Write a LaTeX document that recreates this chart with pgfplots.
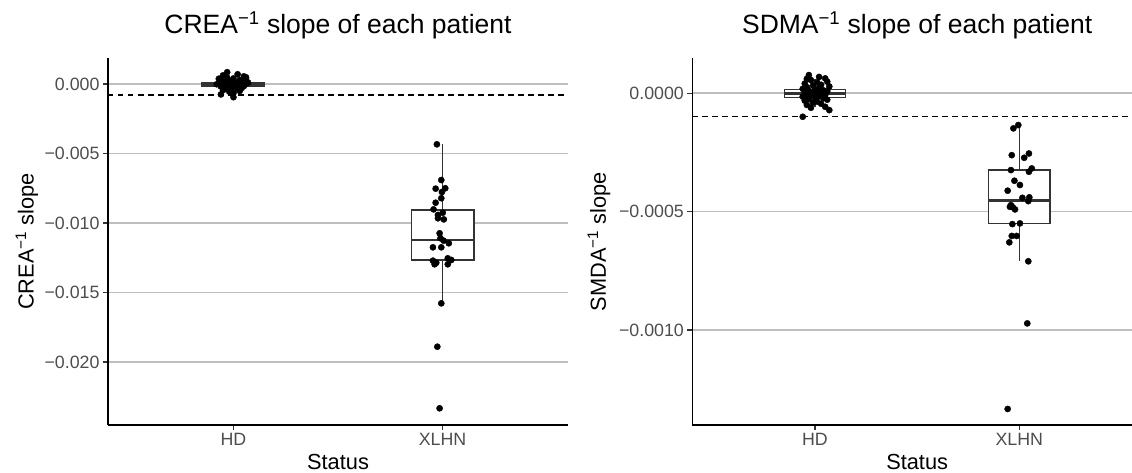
\documentclass[border=0pt]{standalone}
\usepackage{fontspec}
\setmainfont{Liberation Sans}
\usepackage{pgfplots}
\pgfplotsset{compat=1.18}
\usepgfplotslibrary{statistics}

\definecolor{tickgrey}{HTML}{4D4D4D}
\definecolor{boxgrey}{HTML}{333333}
\definecolor{gridgrey}{HTML}{BEBEBE}

\pgfplotsset{
  slopepanel/.style={
    scale only axis, height=367pt,
    axis lines=left, axis line style={-, black, line width=1.4pt},
    xmin=0.4, xmax=2.6, xtick={1,2}, xticklabels={HD,XLHN},
    tick align=outside, major tick length=5pt,
    tick style={boxgrey, line width=1.1pt},
    ymajorgrids, major grid style={gridgrey, line width=1.3pt},
    ticklabel style={font=\fontsize{17.8}{20}\selectfont, text=tickgrey},
    scaled y ticks=false,
    title style={font=\fontsize{26.5}{30}\selectfont, at={(0.5,1)}, anchor=base, yshift=18pt},
    xlabel={Status},
    xlabel style={font=\fontsize{21.8}{25}\selectfont, at={(0.5,0)}, anchor=base, yshift=-44pt},
    ylabel style={font=\fontsize{21.8}{25}\selectfont, at={(0,0.5)}, anchor=center},
    boxplot/draw direction=y,
    boxplot/every median/.style={line width=2.6pt},
  },
  boxstyle/.style={draw=boxgrey, fill=white, line width=1.2pt, solid},
  dots/.style={only marks, mark=*, mark size=3.1pt, black},
  cutoff/.style={black, line width=1.2pt, dash pattern=on 5.5pt off 4.5pt},
}

\begin{document}
\begin{tikzpicture}
\useasboundingbox (0,0) rectangle (1132pt,472pt);

% CREA panel, y values in units of 1e-3
\begin{axis}[slopepanel, at={(108pt,47pt)}, anchor=south west, width=460pt,
  ymin=-24.532, ymax=1.87,
  ytick={-20,-15,-10,-5,0},
  yticklabels={−0.020,−0.015,−0.010,−0.005,0.000},
  title={CREA\textsuperscript{−1} slope of each patient},
  ylabel={CREA\textsuperscript{−1} slope},
  ylabel style={yshift=81pt}]
\addplot[cutoff] coordinates {(0.4,-0.79) (2.6,-0.79)};
\addplot[boxstyle, boxplot prepared={draw position=1, box extend=0.3, whisker extend=0,
  lower whisker=-0.5, lower quartile=-0.15, median=-0.03,
  upper quartile=0.08, upper whisker=0.4}] coordinates {};
\addplot[boxstyle, boxplot prepared={draw position=2, box extend=0.3, whisker extend=0,
  lower whisker=-15.78, lower quartile=-12.66, median=-11.22,
  upper quartile=-9.06, upper whisker=-4.34}] coordinates {};
\addplot[dots] coordinates {
  (0.95,0.62) (1.02,0.70) (1.05,0.55) (0.97,0.45) (1.00,0.40)
  (1.06,0.35) (0.94,0.30) (1.03,0.28) (0.99,0.22) (1.05,0.18)
  (0.96,0.15) (1.01,0.12) (1.04,0.08) (0.93,0.05) (0.98,0.02)
  (1.06,0.00) (1.00,-0.03) (0.95,-0.06) (1.03,-0.08) (0.97,-0.12)
  (1.05,-0.15) (0.94,-0.18) (1.01,-0.20) (0.99,-0.25) (1.04,-0.28)
  (0.96,-0.33) (1.02,-0.38) (0.95,-0.45) (0.98,-0.55) (1.00,-0.65)
  (0.94,-0.75) (1.00,-0.95) (1.06,0.48) (0.93,0.38) (1.03,-0.50)
  (0.97,0.85) (1.07,0.10) (0.92,-0.02)
};
\addplot[dots] coordinates {
  (1.973,-4.34) (1.994,-6.91) (1.967,-7.53) (2.013,-7.50) (1.997,-7.77)
  (1.994,-8.22) (1.967,-8.54) (1.957,-9.02) (2.001,-9.26) (1.978,-9.42)
  (1.978,-9.66) (2.006,-9.74) (1.986,-10.74) (1.990,-11.10) (2.005,-11.27)
  (2.030,-11.46) (1.954,-11.75) (1.994,-11.75) (1.954,-12.71) (1.962,-12.97)
  (1.970,-12.86) (2.025,-12.54) (2.042,-12.66) (2.025,-12.97) (1.994,-15.78)
  (1.975,-18.90) (1.986,-23.33)
};
\end{axis}

% SDMA panel, y values in units of 1e-4
\begin{axis}[slopepanel, at={(692.4pt,47pt)}, anchor=south west, width=449.5pt,
  ymin=-14.008, ymax=1.48,
  ytick={-10,-5,0},
  yticklabels={−0.0010,−0.0005,0.0000},
  title={SDMA\textsuperscript{−1} slope of each patient},
  ylabel={SMDA\textsuperscript{−1} slope},
  ylabel style={yshift=93.4pt}]
\addplot[cutoff] coordinates {(0.4,-1.0) (2.6,-1.0)};
\addplot[boxstyle, boxplot prepared={draw position=1, box extend=0.3, whisker extend=0,
  lower whisker=-0.6, lower quartile=-0.18, median=-0.01,
  upper quartile=0.156, upper whisker=0.6}] coordinates {};
\addplot[boxstyle, boxplot prepared={draw position=2, box extend=0.3, whisker extend=0,
  lower whisker=-7.1, lower quartile=-5.5, median=-4.54,
  upper quartile=-3.25, upper whisker=-1.35}] coordinates {};
\addplot[dots] coordinates {
  (0.97,0.76) (1.05,0.62) (1.06,0.48) (0.98,0.55) (1.01,0.45)
  (0.95,0.40) (1.03,0.35) (0.99,0.32) (1.07,0.28) (0.96,0.25)
  (1.02,0.22) (0.94,0.18) (1.00,0.15) (1.04,0.12) (0.97,0.10)
  (1.06,0.08) (0.95,0.05) (1.01,0.03) (0.99,0.00) (1.03,-0.02)
  (0.96,-0.05) (1.05,-0.08) (0.98,-0.10) (1.02,-0.13) (0.94,-0.15)
  (1.00,-0.18) (1.04,-0.22) (0.97,-0.25) (1.06,-0.28) (0.95,-0.32)
  (1.01,-0.36) (0.99,-0.40) (1.03,-0.45) (0.96,-0.50) (1.05,-0.58)
  (1.07,-0.72) (0.98,-0.62) (0.94,-1.00) (1.02,0.68) (0.96,0.60)
};
\addplot[dots] coordinates {
  (1.995,-1.35) (1.971,-1.49) (1.963,-2.62) (2.024,-2.73) (2.047,-2.55)
  (1.959,-3.25) (2.061,-3.18) (2.047,-3.32) (1.976,-3.70) (2.003,-3.88)
  (1.943,-4.12) (2.015,-4.42) (2.049,-4.40) (2.044,-4.56) (1.959,-4.73)
  (1.968,-4.82) (1.979,-4.91) (1.954,-4.80) (1.966,-5.53) (2.003,-5.50)
  (1.963,-6.03) (1.987,-6.03) (1.951,-6.30) (2.044,-7.10) (2.039,-9.72)
  (1.943,-13.33)
};
\end{axis}
\end{tikzpicture}
\end{document}
